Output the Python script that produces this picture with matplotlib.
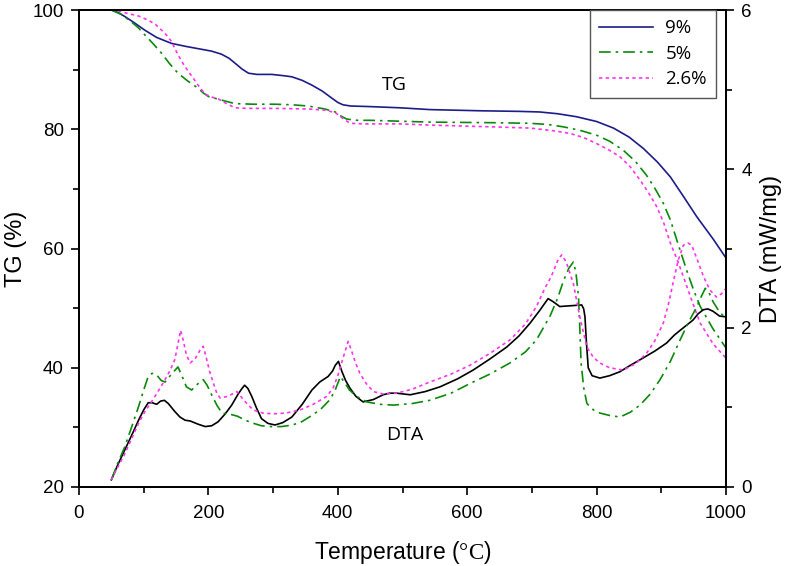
import matplotlib
matplotlib.use("Agg")
import matplotlib.pyplot as plt
from matplotlib.ticker import MultipleLocator

plt.rcParams['font.family'] = ['Liberation Sans', 'DejaVu Sans']
plt.rcParams['mathtext.fontset'] = 'custom'
plt.rcParams['mathtext.rm'] = 'Liberation Serif'

# TG curves (%)
tg9_x = [50, 60, 71, 85, 102, 120, 143, 165, 190, 205, 220, 232, 241, 252, 262, 275, 298, 315,
         329, 345, 360, 376, 391, 400, 408, 420, 450, 496, 542, 620, 680, 712, 740, 769, 800,
         826, 850, 872, 894, 914, 935, 955, 980, 1000]
tg9_y = [100, 99.6, 98.9, 97.9, 96.6, 95.4, 94.4, 93.9, 93.4, 93.1, 92.6, 91.9, 91.1, 90.1, 89.4,
         89.2, 89.2, 89.0, 88.8, 88.2, 87.4, 86.4, 85.2, 84.5, 84.1, 83.9, 83.8, 83.6, 83.3, 83.1,
         83.0, 82.9, 82.6, 82.1, 81.3, 80.2, 78.7, 76.8, 74.5, 72.0, 68.6, 65.3, 61.6, 58.4]

tg5_x = [50, 65, 81, 92, 102, 115, 128, 140, 153, 168, 184, 192, 200, 220, 241, 270, 303, 330,
         354, 380, 396, 405, 414, 430, 450, 542, 640, 697, 725, 749, 775, 800, 820, 841, 860,
         877, 890, 903, 914, 924, 939, 950, 960, 980, 1000]
tg5_y = [100, 99.3, 98.0, 97.0, 95.8, 94.3, 92.7, 91.0, 89.4, 88.1, 86.9, 86.1, 85.5, 84.9, 84.3,
         84.2, 84.2, 84.1, 83.9, 83.4, 82.9, 82.2, 81.7, 81.5, 81.5, 81.2, 81.1, 81.0, 80.8, 80.4,
         79.8, 79.0, 78.0, 76.5, 74.6, 72.3, 70.1, 67.6, 64.8, 61.4, 56.4, 53.0, 50.3, 46.5, 43.3]

tg26_x = [50, 63, 76, 92, 107, 118, 128, 136, 143, 153, 161, 169, 177, 184, 195, 205, 215, 228,
          241, 260, 303, 354, 380, 396, 408, 419, 440, 496, 542, 640, 697, 730, 759, 780, 800,
          818, 836, 852, 867, 880, 893, 904, 914, 925, 935, 948, 960, 980, 1000]
tg26_y = [100, 99.8, 99.4, 99.0, 98.3, 97.6, 96.6, 95.7, 94.7, 92.5, 91.0, 89.7, 88.5, 87.4, 85.9,
          85.4, 85.1, 84.3, 83.6, 83.5, 83.5, 83.4, 83.2, 82.8, 81.8, 81.0, 80.9, 80.9, 80.7, 80.4,
          80.2, 79.8, 79.3, 78.6, 77.6, 76.6, 75.4, 73.7, 71.5, 69.4, 67.0, 64.2, 60.9, 58.0,
          55.0, 51.0, 47.5, 44.0, 41.6]

# DTA curves (mW/mg)
dta9_x = [50, 60, 71, 82, 92, 100, 107, 113, 120, 126, 132, 138, 148, 156, 164, 172, 184, 195,
          205, 215, 226, 236, 246, 252, 256, 261, 267, 274, 282, 292, 303, 315, 329, 345, 360,
          372, 385, 392, 396, 401, 406, 412, 419, 428, 439, 455, 470, 480, 491, 512, 535, 558,
          585, 609, 635, 661, 680, 697, 712, 725, 733, 743, 760, 777, 780, 782, 784, 787, 793,
          805, 820, 836, 850, 867, 890, 908, 920, 929, 949, 957, 965, 972, 980, 990, 1000]
dta9_y = [0.09, 0.28, 0.47, 0.66, 0.84, 0.97, 1.06, 1.06, 1.04, 1.08, 1.09, 1.05, 0.95, 0.88,
          0.84, 0.83, 0.79, 0.76, 0.77, 0.82, 0.92, 1.03, 1.17, 1.24, 1.28, 1.24, 1.14, 1.00,
          0.86, 0.80, 0.78, 0.81, 0.88, 1.04, 1.22, 1.32, 1.39, 1.46, 1.53, 1.58, 1.46, 1.34,
          1.24, 1.14, 1.07, 1.10, 1.16, 1.18, 1.18, 1.16, 1.20, 1.26, 1.36, 1.47, 1.61, 1.76,
          1.90, 2.06, 2.22, 2.37, 2.33, 2.27, 2.28, 2.29, 2.24, 2.14, 1.85, 1.50, 1.40, 1.37,
          1.40, 1.45, 1.52, 1.60, 1.71, 1.81, 1.91, 1.97, 2.10, 2.18, 2.23, 2.24, 2.21, 2.15, 2.14]

dta5_x = [50, 60, 71, 82, 92, 100, 107, 113, 120, 127, 133, 143, 153, 160, 166, 174, 184, 192,
          198, 205, 213, 221, 236, 245, 257, 270, 282, 297, 313, 330, 344, 360, 375, 388, 396,
          404, 410, 418, 429, 445, 465, 486, 515, 542, 575, 604, 635, 666, 690, 707, 728, 740,
          749, 757, 764, 768, 772, 774, 776, 780, 785, 795, 805, 820, 836, 852, 867, 883, 898,
          914, 929, 942, 955, 962, 968, 974, 980, 990, 1000]
dta5_y = [0.09, 0.30, 0.51, 0.77, 1.01, 1.22, 1.39, 1.43, 1.41, 1.34, 1.32, 1.42, 1.51, 1.38,
          1.26, 1.22, 1.30, 1.35, 1.28, 1.16, 1.03, 0.93, 0.91, 0.89, 0.84, 0.80, 0.77, 0.76,
          0.76, 0.78, 0.82, 0.90, 0.99, 1.10, 1.22, 1.39, 1.32, 1.22, 1.14, 1.07, 1.04, 1.03,
          1.05, 1.09, 1.18, 1.30, 1.42, 1.56, 1.70, 1.85, 2.15, 2.38, 2.60, 2.75, 2.83, 2.70,
          2.39, 2.00, 1.56, 1.25, 1.05, 0.97, 0.93, 0.90, 0.88, 0.94, 1.03, 1.17, 1.35, 1.58,
          1.85, 2.07, 2.27, 2.40, 2.50, 2.44, 2.33, 2.20, 2.12]

dta26_x = [50, 60, 71, 82, 92, 102, 112, 122, 133, 141, 148, 153, 157, 161, 166, 172, 180, 187,
           192, 196, 202, 208, 213, 218, 230, 244, 256, 269, 284, 300, 320, 342, 362, 383, 393,
           400, 408, 416, 421, 427, 434, 444, 455, 470, 491, 515, 542, 575, 604, 635, 666, 690,
           707, 720, 730, 740, 746, 753, 764, 769, 774, 780, 785, 795, 805, 820, 841, 860, 877,
           890, 903, 911, 919, 926, 934, 941, 947, 956, 965, 975, 985, 993, 1000]
dta26_y = [0.09, 0.25, 0.42, 0.62, 0.80, 0.95, 1.07, 1.20, 1.35, 1.47, 1.60, 1.80, 1.97, 1.85,
           1.66, 1.56, 1.62, 1.72, 1.77, 1.65, 1.45, 1.30, 1.18, 1.12, 1.14, 1.20, 1.08, 0.97,
           0.93, 0.92, 0.93, 0.97, 1.04, 1.14, 1.25, 1.40, 1.62, 1.83, 1.72, 1.57, 1.43, 1.30,
           1.20, 1.17, 1.18, 1.23, 1.32, 1.42, 1.53, 1.68, 1.85, 2.05, 2.27, 2.50, 2.65, 2.85,
           2.92, 2.83, 2.56, 2.35, 2.14, 1.93, 1.76, 1.63, 1.56, 1.50, 1.47, 1.55, 1.68, 1.84,
           2.06, 2.30, 2.60, 2.85, 3.04, 3.07, 3.04, 2.85, 2.65, 2.48, 2.39, 2.43, 2.50]

labels = ['9%', '5%', '2.6%']

navy = '#1c1c8a'
green = '#0a8a0a'
pink = '#ff33ee'
dashdot = (7, 3, 1.5, 3)
dotted = (2, 2)

fig = plt.figure(figsize=(7.86, 5.66), dpi=100)
ax = fig.add_axes([0.1005, 0.1396, 0.8232, 0.8427])
ax2 = ax.twinx()

lw = 1.2
l1, = ax.plot(tg9_x, tg9_y, color=navy, lw=lw, label=labels[0])
l2, = ax.plot(tg5_x, tg5_y, color=green, lw=lw, dashes=dashdot, label=labels[1])
l3, = ax.plot(tg26_x, tg26_y, color=pink, lw=lw, dashes=dotted, label=labels[2])

ax2.plot(dta9_x, dta9_y, color='black', lw=lw)
ax2.plot(dta5_x, dta5_y, color=green, lw=lw, dashes=dashdot)
ax2.plot(dta26_x, dta26_y, color=pink, lw=lw, dashes=dotted)

ax.set_xlim(0, 1000)
ax.set_ylim(20, 100)
ax2.set_ylim(0, 6)

ax.xaxis.set_major_locator(MultipleLocator(200))
ax.xaxis.set_minor_locator(MultipleLocator(100))
ax.yaxis.set_major_locator(MultipleLocator(20))
ax.yaxis.set_minor_locator(MultipleLocator(10))
ax2.yaxis.set_major_locator(MultipleLocator(2))
ax2.yaxis.set_minor_locator(MultipleLocator(1))

for a in (ax, ax2):
    a.tick_params(which='major', direction='out', length=6, width=1.2, labelsize=13.5, pad=5)
    a.tick_params(which='minor', direction='out', length=4, width=1.2)
    for s in a.spines.values():
        s.set_linewidth(1.3)
ax.tick_params(axis='x', which='major', pad=7)
ax.tick_params(top=False, right=False, which='both')
ax2.tick_params(top=False, which='both')

ax.set_xlabel('Temperature ($\\mathrm{°C}$)', fontsize=16.5, labelpad=12)
ax.set_ylabel('TG (%)', fontsize=17, labelpad=4)
ax2.set_ylabel('DTA (mW/mg)', fontsize=17, labelpad=6)

ax.text(488, 87.4, 'TG', fontsize=14, family=['Open Sans', 'DejaVu Sans'], ha='center', va='center')
ax.text(504, 28.7, 'DTA', fontsize=14, family=['Open Sans', 'DejaVu Sans'], ha='center', va='center')

leg = ax2.legend([l1, l2, l3], labels, loc='upper right', bbox_to_anchor=(0.985, 1.0),
                 borderaxespad=0, fancybox=False, edgecolor='#555555', framealpha=1,
                 handlelength=2.9, handletextpad=0.65,
                 prop={'family': ['Open Sans', 'DejaVu Sans'], 'size': 13.5},
                 labelspacing=0.4, borderpad=0.5)
leg.get_frame().set_linewidth(1.0)

fig.savefig('out.png', dpi=100)
